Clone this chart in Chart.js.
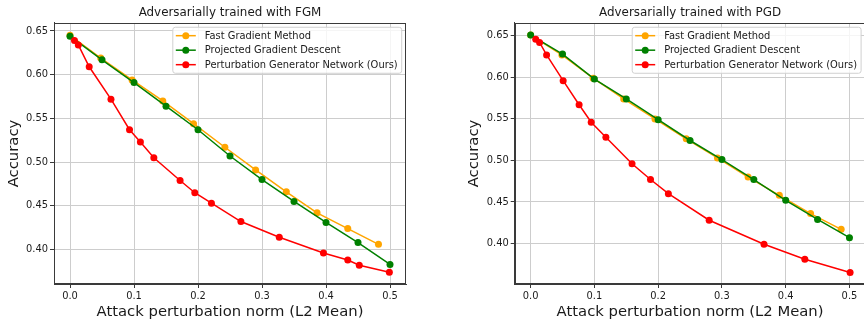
<!DOCTYPE html>
<html>
<head>
<meta charset="utf-8">
<script src="https://cdn.jsdelivr.net/npm/chart.js@4.4.1/dist/chart.umd.min.js"></script>
<style>
  html, body { margin: 0; padding: 0; background: #fff; overflow: hidden; }
  body { width: 864px; height: 320px; position: relative; }
  canvas { position: absolute; top: 0; }
  #chartFgm { left: 0; }
  #chartPgd { left: 432px; }
</style>
</head>
<body>
<canvas id="chartFgm" width="432" height="320"></canvas>
<canvas id="chartPgd" width="460" height="320"></canvas>
<script>
// series labels
const seriesNames = ['Fast Gradient Method', 'Projected Gradient Descent', 'Perturbation Generator Network (Ours)'];
const seriesColors = ['orange', 'green', 'red'];
const xTickValues = [0, 0.1, 0.2, 0.3, 0.4, 0.5];
const yTickValues = [0.40, 0.45, 0.50, 0.55, 0.60, 0.65];

// Adversarially trained with FGM
const fgmNormFgm = [0.000, 0.048, 0.097, 0.145, 0.193, 0.242, 0.290, 0.338, 0.386, 0.434, 0.482];
const fgmAccFgm = [0.645, 0.619, 0.594, 0.570, 0.544, 0.517, 0.491, 0.466, 0.442, 0.424, 0.406];
const pgdNormFgm = [0.00, 0.05, 0.10, 0.15, 0.20, 0.25, 0.30, 0.35, 0.40, 0.45, 0.50];
const pgdAccFgm = [0.644, 0.617, 0.591, 0.564, 0.537, 0.507, 0.480, 0.455, 0.431, 0.408, 0.383];
const pgnNormFgm = [0.007, 0.013, 0.030, 0.064, 0.093, 0.110, 0.131, 0.172, 0.195, 0.221, 0.267, 0.327, 0.396, 0.434, 0.452, 0.499];
const pgnAccFgm = [0.639, 0.634, 0.609, 0.572, 0.537, 0.523, 0.505, 0.479, 0.465, 0.453, 0.432, 0.414, 0.396, 0.388, 0.382, 0.374];

// Adversarially trained with PGD
const fgmNormPgd = [0.000, 0.049, 0.098, 0.146, 0.195, 0.244, 0.293, 0.341, 0.390, 0.439, 0.487];
const fgmAccPgd = [0.651, 0.627, 0.599, 0.574, 0.550, 0.526, 0.503, 0.480, 0.458, 0.436, 0.417];
const pgdNormPgd = [0.00, 0.05, 0.10, 0.15, 0.20, 0.25, 0.30, 0.35, 0.40, 0.45, 0.50];
const pgdAccPgd = [0.651, 0.628, 0.598, 0.574, 0.549, 0.524, 0.501, 0.477, 0.452, 0.429, 0.407];
const pgnNormPgd = [0.008, 0.014, 0.025, 0.051, 0.076, 0.095, 0.118, 0.159, 0.188, 0.216, 0.280, 0.366, 0.430, 0.501];
const pgnAccPgd = [0.646, 0.642, 0.627, 0.596, 0.567, 0.546, 0.528, 0.496, 0.477, 0.460, 0.428, 0.399, 0.381, 0.365];

const FONT = "'DejaVu Sans', sans-serif";
const INK = '#1a1a1a';
const SMALL = 9.9;

const toPoints = (xs, ys) => xs.map((x, i) => ({ x: x, y: ys[i] }));

// box around the plot + matplotlib style legend on top of the lines
const framePlugin = {
    id: 'frame',
    beforeDatasetsDraw(chart) {
        const { ctx, chartArea: a } = chart;
        ctx.save();
        ctx.strokeStyle = '#3a3a3a';
        ctx.lineWidth = 1;
        ctx.strokeRect(Math.round(a.left) + 0.5, Math.round(a.top) + 0.5,
            Math.round(a.right - a.left) - 1, Math.round(a.bottom - a.top) - 1);
        ctx.restore();
    },
    afterDatasetsDraw(chart) {
        const { ctx, chartArea: a } = chart;
        const sets = chart.data.datasets;
        ctx.save();
        ctx.font = SMALL + 'px ' + FONT;
        let textW = 0;
        sets.forEach(d => { textW = Math.max(textW, ctx.measureText(d.label).width); });
        const w = 3 + 20 + 9 + textW + 4;
        const h = 46;
        const x0 = a.right - 4.3 - w;
        const y0 = a.top + 4.3;
        ctx.beginPath();
        ctx.roundRect(x0, y0, w, h, 2.5);
        ctx.fillStyle = 'rgba(255,255,255,0.8)';
        ctx.fill();
        ctx.strokeStyle = '#d0d0d0';
        ctx.lineWidth = 1;
        ctx.stroke();
        sets.forEach((d, i) => {
            const cy = y0 + 8.4 + i * 14.5;
            ctx.strokeStyle = d.borderColor;
            ctx.lineWidth = 1.5;
            ctx.beginPath();
            ctx.moveTo(x0 + 3, cy);
            ctx.lineTo(x0 + 23, cy);
            ctx.stroke();
            ctx.fillStyle = d.borderColor;
            ctx.beginPath();
            ctx.arc(x0 + 13, cy, 3.5, 0, Math.PI * 2);
            ctx.fill();
            ctx.fillStyle = INK;
            ctx.textBaseline = 'middle';
            ctx.fillText(d.label, x0 + 32, cy + 0.5);
        });
        ctx.restore();
    }
};

function makeChart(id, title, series, yMin, yMax, padLeft, padRight) {
    return new Chart(document.getElementById(id), {
        type: 'line',
        data: {
            datasets: series.map((pts, i) => ({
                label: seriesNames[i],
                data: pts,
                borderColor: seriesColors[i],
                backgroundColor: seriesColors[i],
                pointBackgroundColor: seriesColors[i],
                pointBorderWidth: 0,
                pointRadius: 3.5,
                borderWidth: 1.5,
                tension: 0,
                order: 3 - i
            }))
        },
        options: {
            responsive: false,
            animation: false,
            events: [],
            layout: { padding: { left: padLeft, right: padRight, top: 0, bottom: 0 } },
            scales: {
                x: {
                    type: 'linear',
                    min: -0.025,
                    max: 0.525,
                    afterBuildTicks: s => { s.ticks = xTickValues.map(v => ({ value: v })); },
                    afterFit: s => { s.height = 36; },
                    ticks: {
                        callback: v => v.toFixed(1),
                        font: { family: FONT, size: SMALL },
                        color: INK,
                        padding: 2,
                        maxRotation: 0
                    },
                    grid: { color: '#cdcdcd', lineWidth: 1, tickColor: '#3a3a3a', tickLength: 4 },
                    border: { color: '#3a3a3a', width: 1 },
                    title: {
                        display: true,
                        text: 'Attack perturbation norm (L2 Mean)',
                        font: { family: FONT, size: 14.8, lineHeight: 1 },
                        color: INK,
                        padding: { top: 0, bottom: 0 }
                    }
                },
                y: {
                    type: 'linear',
                    min: yMin,
                    max: yMax,
                    afterBuildTicks: s => { s.ticks = yTickValues.map(v => ({ value: v })); },
                    afterFit: s => { s.width = 54; },
                    ticks: {
                        callback: v => v.toFixed(2),
                        font: { family: FONT, size: SMALL },
                        color: INK,
                        padding: 2
                    },
                    grid: { color: '#cdcdcd', lineWidth: 1, tickColor: '#3a3a3a', tickLength: 4 },
                    border: { color: '#3a3a3a', width: 1 },
                    title: {
                        display: true,
                        text: 'Accuracy',
                        font: { family: FONT, size: 14.8, lineHeight: 1.2 },
                        color: INK,
                        padding: { top: 5, bottom: 0 }
                    }
                }
            },
            plugins: {
                legend: { display: false },
                tooltip: { enabled: false },
                title: {
                    display: true,
                    text: title,
                    fullSize: false,
                    color: INK,
                    font: { family: FONT, size: 11.9, weight: 'normal', lineHeight: 1.2 },
                    padding: { top: 5.5, bottom: 3.2 }
                }
            }
        },
        plugins: [framePlugin]
    });
}

makeChart('chartFgm', 'Adversarially trained with FGM', [
    toPoints(fgmNormFgm, fgmAccFgm),
    toPoints(pgdNormFgm, pgdAccFgm),
    toPoints(pgnNormFgm, pgnAccFgm)
], 0.3606, 0.6591, 0, 26);

makeChart('chartPgd', 'Adversarially trained with PGD', [
    toPoints(fgmNormPgd, fgmAccPgd),
    toPoints(pgdNormPgd, pgdAccPgd),
    toPoints(pgnNormPgd, pgnAccPgd)
], 0.3512, 0.6655, 28.7, 26.6);
</script>
</body>
</html>
